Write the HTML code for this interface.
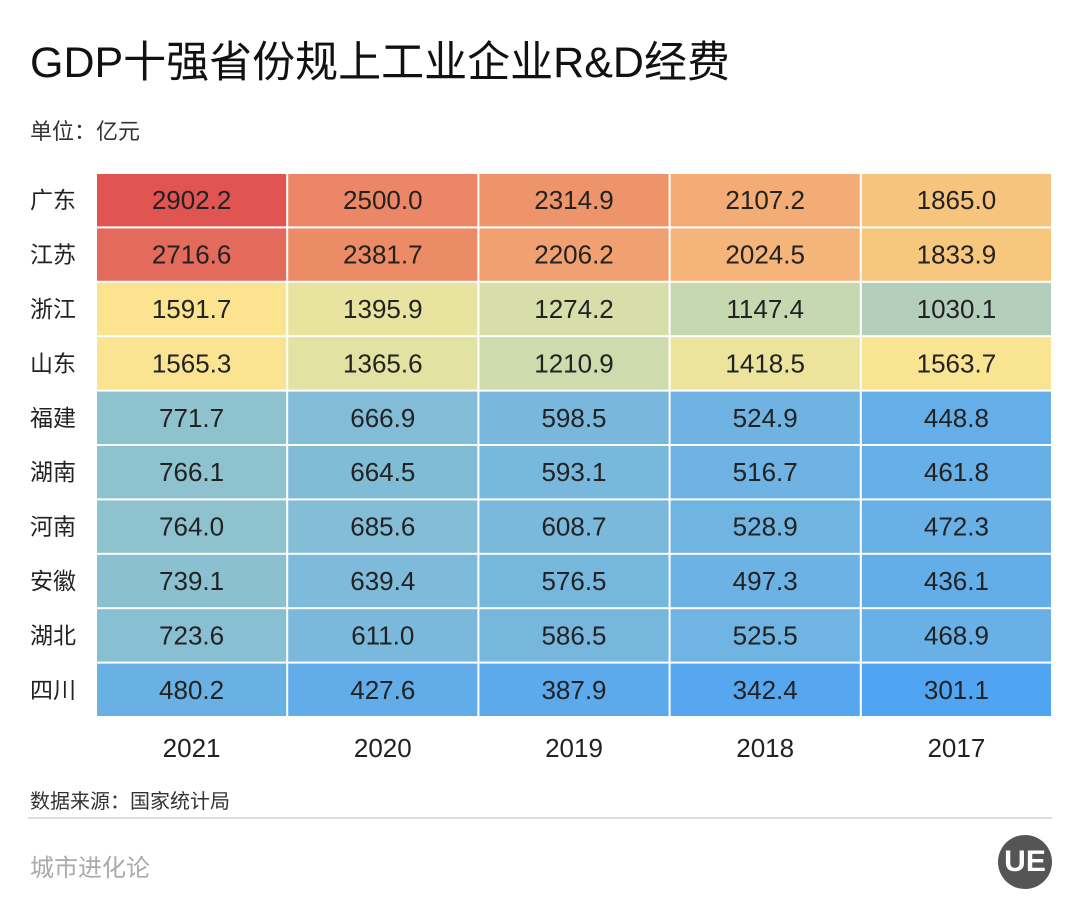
<!DOCTYPE html>
<html><head><meta charset="utf-8">
<style>
body{margin:0;width:1080px;height:918px;background:#fff;overflow:hidden;font-family:"Liberation Sans","Noto Sans CJK SC",sans-serif;color:#222;position:relative}
.abs{position:absolute}
</style></head><body>
<div class="abs" style="left:30px;top:28px;font-size:43px;color:#111;letter-spacing:0px">GDP十强省份规上工业企业R&amp;D经费</div>
<div class="abs" style="left:30px;top:114px;font-size:22px;color:#333">单位：亿元</div>
<svg class="abs" style="left:0;top:0" width="1080" height="918" id="chart"></svg>
<div class="abs" style="left:30px;top:785px;font-size:20px;color:#333">数据来源：国家统计局</div>
<div class="abs" style="left:28px;top:817px;width:1024px;height:2px;background:#ddd"></div>
<div class="abs" style="left:30px;top:848px;font-size:24px;color:#aaa">城市进化论</div>
<div class="abs" style="left:998px;top:835px;width:54px;height:54px;border-radius:50%;background:#555;color:#fff;font-size:30px;font-weight:bold;text-align:center;line-height:54px">UE</div>
<script>
const provinces=["广东","江苏","浙江","山东","福建","湖南","河南","安徽","湖北","四川"];
const years=["2021","2020","2019","2018","2017"];
const v2021=[2902.2,2716.6,1591.7,1565.3,771.7,766.1,764.0,739.1,723.6,480.2];
const v2020=[2500.0,2381.7,1395.9,1365.6,666.9,664.5,685.6,639.4,611.0,427.6];
const v2019=[2314.9,2206.2,1274.2,1210.9,598.5,593.1,608.7,576.5,586.5,387.9];
const v2018=[2107.2,2024.5,1147.4,1418.5,524.9,516.7,528.9,497.3,525.5,342.4];
const v2017=[1865.0,1833.9,1030.1,1563.7,448.8,461.8,472.3,436.1,468.9,301.1];
const series=[v2021,v2020,v2019,v2018,v2017];
const stops=[[300,[80,164,242]],[500,[108,178,228]],[770,[143,194,207]],[1030,[179,207,187]],[1150,[198,216,176]],[1270,[214,222,170]],[1370,[227,226,162]],[1420,[236,227,156]],[1570,[250,228,145]],[1600,[251,227,142]],[1833,[248,199,126]],[2024,[245,181,122]],[2206,[241,161,113]],[2381,[236,140,102]],[2500,[235,134,102]],[2716,[228,107,92]],[2902,[224,85,82]]];
function color(v){
  if(v<=stops[0][0])return `rgb(${stops[0][1]})`;
  for(let i=1;i<stops.length;i++){
    if(v<=stops[i][0]){const a=stops[i-1],b=stops[i];const t=(v-a[0])/(b[0]-a[0]);
      return `rgb(${a[1].map((c,k)=>Math.round(c+(b[1][k]-c)*t)).join(',')})`;}
  }
  return `rgb(${stops[stops.length-1][1]})`;
}
const x0=96,x1=1052,y0=173,y1=717;
const cw=(x1-x0)/years.length, rh=(y1-y0)/provinces.length;
const xs=i=>x0+i*cw, ys=j=>y0+j*rh;
const svg=document.getElementById('chart');const NS='http://www.w3.org/2000/svg';
function mk(t,a){const e=document.createElementNS(NS,t);for(const k in a)e.setAttribute(k,a[k]);svg.appendChild(e);return e;}
provinces.forEach((p,j)=>{
  const t=mk('text',{x:30,y:ys(j)+rh/2+8,'font-size':23,fill:'#222'});t.textContent=p;
  
  
  series.forEach((s,i)=>{
    const r=mk('rect',{x:xs(i)+1,y:ys(j)+1,width:cw-2,height:rh-2,fill:color(s[j])});
    
    
    const tx=mk('text',{x:xs(i)+cw/2,y:ys(j)+rh/2+9,'font-size':26,fill:'#222','text-anchor':'middle'});
    tx.textContent=s[j].toFixed(1);
    
    
  });
});
years.forEach((y,i)=>{
  const t=mk('text',{x:xs(i)+cw/2,y:757,'font-size':26,fill:'#222','text-anchor':'middle'});t.textContent=y;
  
  
});
</script>
</body></html>
